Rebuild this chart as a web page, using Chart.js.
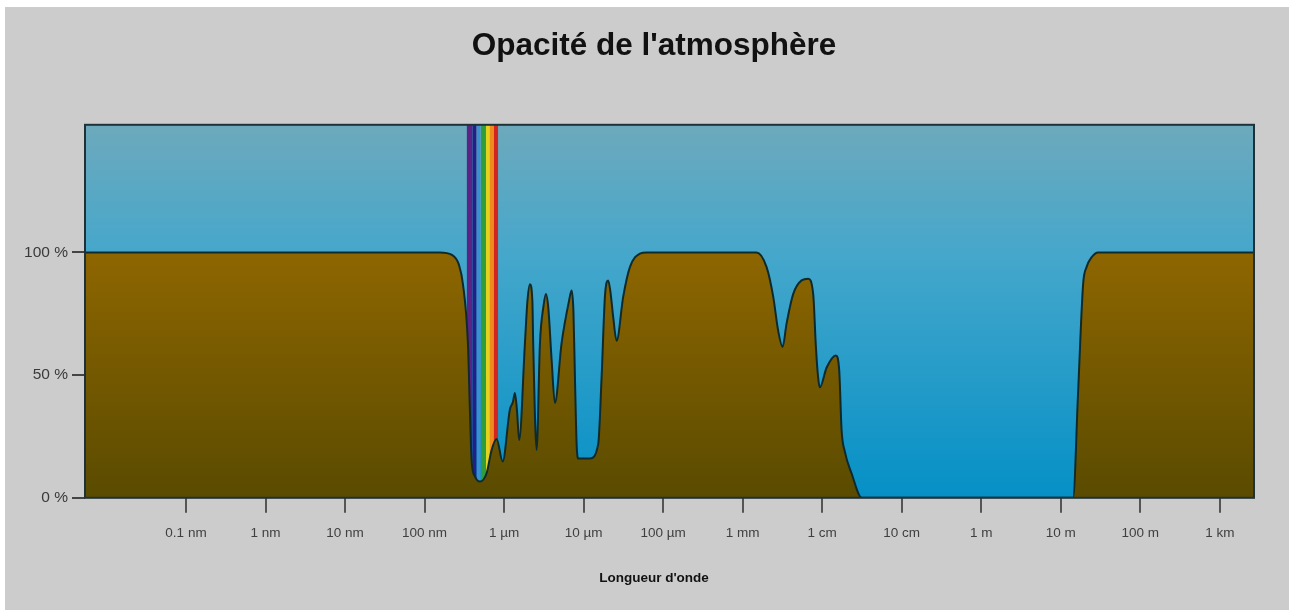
<!DOCTYPE html>
<html lang="fr">
<head>
<meta charset="utf-8">
<title>Opacité de l'atmosphère</title>
<script src="https://cdn.jsdelivr.net/npm/chart.js@4.4.1/dist/chart.umd.min.js"></script>
<style>
    body { margin: 0; background: #ffffff; }
    #frame {
        position: absolute;
        left: 5px;
        top: 7px;
        width: 1284px;
        height: 603px;
        background: #cccccc;
    }
</style>
</head>
<body>
<div id="frame">
    <canvas id="opacityChart" width="1284" height="603"></canvas>
</div>
<script>
// Wavelength as log10(metres), opacity in %
const wavelengthExp = [
    -11.27, -6.807, -6.656, -6.568, -6.517, -6.455, -6.430, -6.408, -6.367, -6.304,
    -6.220, -6.157, -6.094, -6.018, -5.927, -5.889, -5.864, -5.839, -5.810, -5.738,
    -5.707, -5.675, -5.644, -5.634, -5.591, -5.549, -5.505, -5.474, -5.443, -5.402,
    -5.361, -5.277, -5.185, -5.151, -5.128, -5.109, -5.088, -5.068, -4.921, -4.816,
    -4.774, -4.732, -4.691, -4.663, -4.628, -4.585, -4.502, -4.418, -4.292, -4.208,
    -2.825, -2.699, -2.616, -2.553, -2.498, -2.448, -2.365, -2.259, -2.176, -2.113,
    -2.079, -2.051, -2.029, -1.945, -1.828, -1.786, -1.756, -1.715, -1.631, -1.501,
    1.155, 1.218, 1.281, 1.324, 1.387, 1.470, 3.43
];
const opacity = [
    100, 100, 99, 95, 87, 63, 36, 15, 8.7, 6.6,
    10, 19.5, 24, 14.8, 36, 39, 42.7, 36, 23.6, 63,
    80, 87, 80, 63, 19.5, 63, 78, 83, 77, 56,
    38.6, 63, 80, 84.5, 76, 49, 22, 16, 16, 22,
    49, 82, 88.6, 84, 73.7, 64, 82, 94, 99.5, 100,
    100, 94, 82, 68, 61.5, 71, 83, 88.6, 89.3, 83,
    61.5, 49, 45, 53, 58, 52, 27.6, 18.8, 10, 0,
    0, 43, 87, 94, 98, 100, 100
];

// Visible spectrum stripes (edges in log10 m)
const stripeEdges = [-6.471, -6.401, -6.345, -6.295, -6.228, -6.178, -6.128, -6.074];
const stripeColors = ['#5a2385', '#221f86', '#3c8fd2', '#2f9d3c', '#e3d21f', '#ef8a1d', '#d0261f'];

// Axis ticks
const tickExps = [-10, -9, -8, -7, -6, -5, -4, -3, -2, -1, 0, 1, 2, 3];
const tickLabels = ['0.1 nm', '1 nm', '10 nm', '100 nm', '1 µm', '10 µm', '100 µm',
    '1 mm', '1 cm', '10 cm', '1 m', '10 m', '100 m', '1 km'];
const yTicks = [0, 50, 100];
const xMin = -11.27, xMax = 3.43;
const yMax = 152;

// Sky background + frame around the plot
const plotFrame = {
    id: 'plotFrame',
    beforeDatasetsDraw(chart) {
        const { ctx, chartArea: a } = chart;
        const g = ctx.createLinearGradient(0, a.top, 0, a.bottom);
        g.addColorStop(0, '#6da9bc');
        g.addColorStop(0.35, '#45a7cb');
        g.addColorStop(1, '#0590c6');
        ctx.save();
        ctx.fillStyle = g;
        ctx.fillRect(a.left, a.top, a.right - a.left, a.bottom - a.top);
        ctx.restore();
    },
    afterDatasetsDraw(chart) {
        const { ctx, chartArea: a } = chart;
        ctx.save();
        ctx.strokeStyle = '#1d3136';
        ctx.lineWidth = 2;
        ctx.strokeRect(a.left, a.top, a.right - a.left, a.bottom - a.top);
        ctx.restore();
    }
};

function brownFill(context) {
    const chart = context.chart;
    const a = chart.chartArea;
    if (!a) return '#7a5c00';
    const y = chart.scales.y;
    const g = chart.ctx.createLinearGradient(0, y.getPixelForValue(100), 0, a.bottom);
    g.addColorStop(0, '#8e6600');
    g.addColorStop(1, '#5a4b00');
    return g;
}

function buildDatasets() {
    const datasets = [{
        data: wavelengthExp.map((x, i) => ({ x: x, y: opacity[i] })),
        borderColor: '#0e2a2c',
        borderWidth: 2,
        backgroundColor: brownFill,
        fill: 'origin',
        pointRadius: 0,
        cubicInterpolationMode: 'monotone'
    }];
    stripeColors.forEach((color, i) => {
        datasets.push({
            data: [{ x: stripeEdges[i], y: yMax }, { x: stripeEdges[i + 1], y: yMax }],
            borderWidth: 0,
            backgroundColor: color,
            fill: 'origin',
            pointRadius: 0
        });
    });
    return datasets;
}

function initChart() {
    const ctx = document.getElementById('opacityChart');
    new Chart(ctx, {
        type: 'line',
        data: { datasets: buildDatasets() },
        plugins: [plotFrame],
        options: {
            responsive: false,
            animation: false,
            devicePixelRatio: 1,
            layout: { padding: { left: 14, right: 0, top: 0, bottom: 0 } },
            plugins: {
                legend: { display: false },
                tooltip: { enabled: false },
                title: {
                    display: true,
                    text: "Opacité de l'atmosphère",
                    color: '#111111',
                    font: { family: 'Liberation Sans', size: 31.5, weight: 'bold', lineHeight: 1.2 },
                    padding: { top: 20, bottom: 60 }
                },
                // x axis title, centred on the whole figure like the original
                subtitle: {
                    display: true,
                    position: 'bottom',
                    text: "Longueur d'onde",
                    color: '#111111',
                    font: { family: 'Liberation Sans', size: 13.5, weight: 'bold', lineHeight: 1.2 },
                    padding: { top: 0, bottom: 24 }
                }
            },
            scales: {
                x: {
                    type: 'linear',
                    min: xMin,
                    max: xMax,
                    afterBuildTicks: (scale) => { scale.ticks = tickExps.map(v => ({ value: v })); },
                    afterFit: (scale) => { scale.height = 72; },
                    border: { display: false },
                    grid: { drawOnChartArea: false, drawTicks: true, tickLength: 15, color: '#555555', lineWidth: 2 },
                    ticks: {
                        autoSkip: false,
                        maxRotation: 0,
                        padding: 12,
                        color: '#404040',
                        font: { family: 'Liberation Sans', size: 13.5 },
                        callback: (v) => tickLabels[tickExps.indexOf(v)]
                    }
                },
                y: {
                    min: 0,
                    max: yMax,
                    afterBuildTicks: (scale) => { scale.ticks = yTicks.map(v => ({ value: v })); },
                    afterFit: (scale) => { scale.width = 66; },
                    border: { display: false },
                    grid: { drawOnChartArea: false, drawTicks: true, tickLength: 13, color: '#444444', lineWidth: 2 },
                    ticks: {
                        padding: 4,
                        color: '#3a3a3a',
                        font: { family: 'Liberation Sans', size: 15.5 },
                        callback: (v) => v + ' %'
                    }
                },
                // empty right margin of the plot
                yRight: {
                    position: 'right',
                    display: true,
                    afterFit: (scale) => { scale.width = 35; },
                    border: { display: false },
                    grid: { display: false },
                    ticks: { display: false }
                }
            }
        }
    });
}

document.addEventListener('DOMContentLoaded', initChart);
</script>
</body>
</html>
